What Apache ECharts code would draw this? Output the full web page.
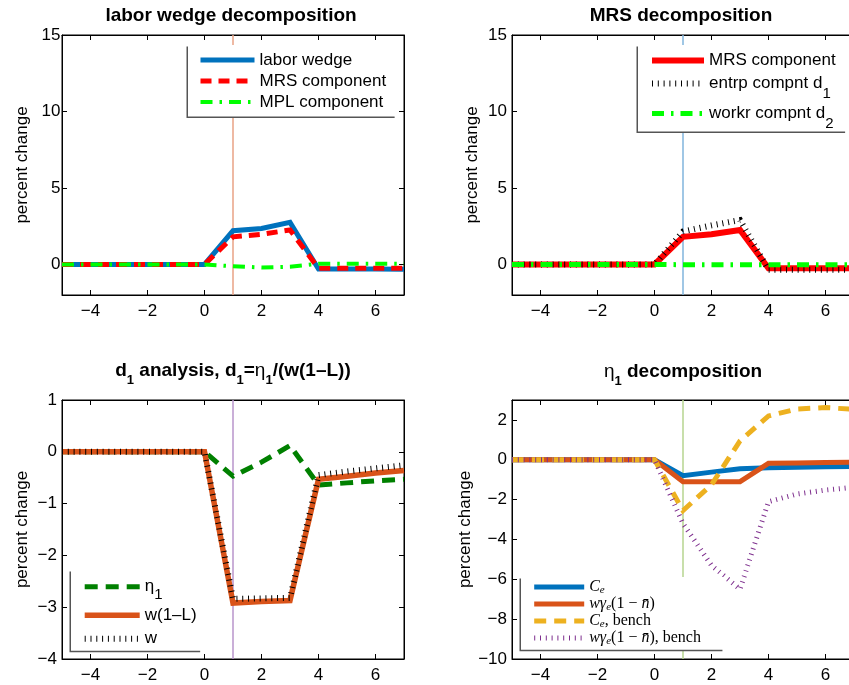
<!DOCTYPE html>
<html><head><meta charset="utf-8">
<script src="https://cdn.jsdelivr.net/npm/echarts@6/dist/echarts.min.js"></script>
<style>html,body{margin:0;padding:0;background:#fff}#c{width:849px;height:685px}</style>
</head><body><div id="c"></div>
<script>
// ---------- data ----------
const periods = [-5,-4,-3,-2,-1,0,1,2,3,4,5,6,7];
// labor wedge decomposition
const laborWedge   = [0,0,0,0,0,0,2.2,2.35,2.75,-0.3,-0.3,-0.3,-0.32];
const mrsComponent = [0,0,0,0,0,0,1.8,1.97,2.25,-0.25,-0.25,-0.25,-0.25];
const mplComponent = [0,0,0,0,0,0,-0.12,-0.2,-0.15,0.05,0.05,0.05,0.05];
// MRS decomposition
const entrpD1 = [0,0,0,0,0,0,2.15,2.55,2.9,-0.35,-0.35,-0.35,-0.35];
const workrD2 = [0,0,0,0,0,0,-0.02,-0.02,-0.02,-0.02,-0.02,-0.02,-0.02];
// d1 analysis
const eta1 = [0,0,0,0,0,0,-0.47,-0.2,0.12,-0.64,-0.6,-0.56,-0.53];
const w1L  = [0,0,0,0,0,0,-2.92,-2.89,-2.87,-0.53,-0.47,-0.41,-0.36];
const wage = [0,0,0,0,0,0,-2.84,-2.83,-2.82,-0.45,-0.38,-0.32,-0.26];
// eta1 decomposition
const Ce          = [0,0,0,0,0,0,-0.8,-0.62,-0.45,-0.4,-0.38,-0.35,-0.33];
const wGamma      = [0,0,0,0,0,0,-1.1,-1.1,-1.1,-0.18,-0.16,-0.14,-0.12];
const CeBench     = [0,0,0,0,0,0,-2.55,-1.25,0.95,2.2,2.55,2.62,2.53];
const wGammaBench = [0,0,0,0,0,0,-3.2,-5.3,-6.5,-2.1,-1.72,-1.52,-1.38];
// axes
const xRange = [-5, 7];
const xTicks = [-4,-2,0,2,4,6];
const yRangeTop = [-2, 15];
const yTicksTop = [0,5,10,15];
const yRangeBL = [-4, 1];
const yTicksBL = [-4,-3,-2,-1,0,1];
const yRangeBR = [-10, 3];
const yTicksBR = [-10,-8,-6,-4,-2,0,2];
const shockPeriod = 1;

// ---------- helpers ----------
const FONT = 'Liberation Sans';
const pairs = arr => periods.map((p, i) => [p, arr[i]]);
const fmt = v => String(v).replace('-', '\u2212');

const grids = [
  {left: 62, top: 35, width: 342, height: 260},
  {left: 512, top: 35, width: 342, height: 260},
  {left: 62, top: 400, width: 342, height: 259},
  {left: 512, top: 400, width: 342, height: 259}
].map(g => Object.assign(g, {show: true, borderColor: '#000', borderWidth: 1, backgroundColor: 'transparent', outerBoundsMode: 'none', containLabel: false}));

const yRanges = [yRangeTop, yRangeTop, yRangeBL, yRangeBR];
const yTicks = [yTicksTop, yTicksTop, yTicksBL, yTicksBR];
const yMargins = [1.5, 5, 5, 5];

const xAxes = [], yAxes = [];
for (let g = 0; g < 4; g++) {
  ['bottom', 'top'].forEach(pos => xAxes.push({
    type: 'value', gridIndex: g, position: pos, min: xRange[0], max: xRange[1],
    axisLine: {show: true, onZero: false, lineStyle: {color: '#000', width: 1}},
    axisTick: {show: true, inside: true, length: 5, lineStyle: {color: '#000', width: 1}, customValues: xTicks},
    axisLabel: {show: pos === 'bottom', customValues: xTicks, margin: 7.5, fontFamily: FONT, fontSize: 17, color: '#000', formatter: fmt},
    splitLine: {show: false}
  }));
  ['left', 'right'].forEach(pos => yAxes.push({
    type: 'value', gridIndex: g, position: pos, min: yRanges[g][0], max: yRanges[g][1],
    name: pos === 'left' ? 'percent change' : '', nameLocation: 'middle', nameGap: 31,
    nameTextStyle: {fontFamily: FONT, fontSize: 17, color: '#000'},
    axisLine: {show: true, onZero: false, lineStyle: {color: '#000', width: 1}},
    axisTick: {show: true, inside: true, length: 5, lineStyle: {color: '#000', width: 1}, customValues: yTicks[g]},
    axisLabel: {show: pos === 'left', customValues: yTicks[g], margin: yMargins[g], fontFamily: FONT, fontSize: 17, color: '#000', formatter: fmt},
    splitLine: {show: false}
  }));
}

function line(name, g, arr, color, width, type, z) {
  return {
    name, type: 'line', xAxisIndex: 2 * g, yAxisIndex: 2 * g, data: pairs(arr),
    symbol: 'none', showSymbol: false, z: z || 2, silent: true,
    lineStyle: {color, width, type: type || 'solid', cap: 'butt', join: 'miter'},
    itemStyle: {color},
    emphasis: {disabled: true}
  };
}
function vline(g, color) {
  return {
    name: 'shock' + g, type: 'line', xAxisIndex: 2 * g, yAxisIndex: 2 * g,
    data: [[shockPeriod, yRanges[g][0]], [shockPeriod, yRanges[g][1]]],
    symbol: 'none', z: 1, silent: true, lineStyle: {color, width: 1.5}, emphasis: {disabled: true}
  };
}

const DOT = [1, 4.8];
const series = [
  vline(0, '#e8a285'), vline(1, '#80b4dd'), vline(2, '#b994cb'), vline(3, '#b6d48f'),
  line('tl_lw', 0, laborWedge, '#0072BD', 5),
  line('tl_mrs', 0, mrsComponent, '#FF0000', 5, [11, 7]),
  line('tl_mpl', 0, mplComponent, '#00FF00', 4, [12, 7, 2.5, 7]),
  line('tr_mrs', 1, mrsComponent, '#FF0000', 6),
  line('tr_d1', 1, entrpD1, '#000000', 6, DOT),
  line('tr_d2', 1, workrD2, '#00FF00', 5, [12, 7, 2.5, 7]),
  line('bl_eta', 2, eta1, '#008000', 5, [13, 8]),
  line('bl_w1l', 2, w1L, '#D95319', 5.5),
  line('bl_w', 2, wage, '#000000', 6, DOT),
  line('br_ce', 3, Ce, '#0072BD', 5),
  line('br_wg', 3, wGamma, '#D95319', 5),
  line('br_ceb', 3, CeBench, '#EDB120', 5, [12, 8]),
  line('br_wgb', 3, wGammaBench, '#7E2F8E', 5, DOT)
];

const labels = {
  tl_lw: 'labor wedge', tl_mrs: 'MRS component', tl_mpl: 'MPL component',
  tr_mrs: 'MRS component', tr_d1: 'entrp compnt d{sub|1}', tr_d2: 'workr compnt d{sub|2}',
  bl_eta: '{gr|\u03B7}{sub2|1}', bl_w1l: 'w(1\u2013L)', bl_w: 'w',
  br_ce: '{it|C}{esub|e}',
  br_wg: '{it|w\u03B3}{esub|e}{rm|(1 \u2212 }{it|n\u0304}{rm|)}',
  br_ceb: '{it|C}{esub|e}{rm|, bench}',
  br_wgb: '{it|w\u03B3}{esub|e}{rm|(1 \u2212 }{it|n\u0304}{rm|), bench}'
};
const RICH = {
  sub: {fontFamily: FONT, fontSize: 15, height: 1, lineHeight: 1, verticalAlign: 'bottom', color: '#000'},
  sub2: {fontFamily: FONT, fontSize: 15, height: 5, lineHeight: 5, verticalAlign: 'bottom', color: '#000'},
  gr: {fontFamily: FONT, fontSize: 17, color: '#000'},
  it: {fontFamily: 'Liberation Serif', fontStyle: 'italic', fontSize: 16, lineHeight: 17, color: '#000'},
  rm: {fontFamily: 'Liberation Serif', fontSize: 16, lineHeight: 17, color: '#000'},
  esub: {fontFamily: 'Liberation Serif', fontStyle: 'italic', fontSize: 11, lineHeight: 8, verticalAlign: 'bottom', color: '#000'}
};
function legend(opt, lh) {
  return Object.assign({
    orient: 'vertical', selectedMode: false, backgroundColor: '#fff', borderWidth: 0,
    shadowColor: '#555', shadowBlur: 0, shadowOffsetX: -1.5, shadowOffsetY: 1.5,
    itemHeight: 14,
    lineStyle: {width: 'inherit', type: 'inherit'},
    itemStyle: {opacity: 0, borderWidth: 0},
    formatter: n => labels[n],
    textStyle: {fontFamily: FONT, fontSize: 17, color: '#000', lineHeight: lh, rich: RICH}
  }, opt);
}
const legends = [
  legend({left: 188, top: 45, itemWidth: 54, itemGap: 0, padding: [4.5, 10, 4, 10], data: ['tl_lw', 'tl_mrs', 'tl_mpl']}, 21),
  legend({left: 638, top: 45, itemWidth: 52, itemGap: 1, padding: [4.5, 11, 0, 11], data: ['tr_mrs', 'tr_d1', 'tr_d2']}, 22),
  legend({left: 71, top: 570, itemWidth: 55, itemGap: 1.5, padding: [5.7, 5, 1, 10.7], data: ['bl_eta', 'bl_w1l', 'bl_w']}, 22),
  legend({left: 521, top: 577, itemWidth: 50, itemGap: 0, padding: [1.5, 23, 3.2, 10.7], data: ['br_ce', 'br_wg', 'br_ceb', 'br_wgb']}, 17)
];

const TRICH = {
  ts: {fontFamily: FONT, fontWeight: 'bold', fontSize: 13, height: 3, lineHeight: 3, verticalAlign: 'bottom', color: '#000'},
  teta: {fontFamily: FONT, fontWeight: 'normal', fontSize: 19, lineHeight: 22, color: '#000'}
};
function title(text, cx, top) {
  return {text, left: cx, top, textAlign: 'center', padding: 0,
    textStyle: {fontFamily: FONT, fontWeight: 'bold', fontSize: 19, lineHeight: 22, color: '#000', rich: TRICH}};
}
const titles = [
  title('labor wedge decomposition', 231, 5),
  title('MRS decomposition', 681, 5),
  title('d{ts|1} analysis, d{ts|1}={teta|\u03B7}{ts|1}/(w(1\u2013L))', 233, 360),
  title('{teta|\u03B7}{ts|1} decomposition', 683, 361)
];

const chart = echarts.init(document.getElementById('c'), null, {renderer: 'canvas'});
chart.setOption({
  animation: false,
  backgroundColor: '#fff',
  title: titles,
  legend: legends,
  grid: grids,
  xAxis: xAxes,
  yAxis: yAxes,
  tooltip: {show: false},
  series
});
</script></body></html>
